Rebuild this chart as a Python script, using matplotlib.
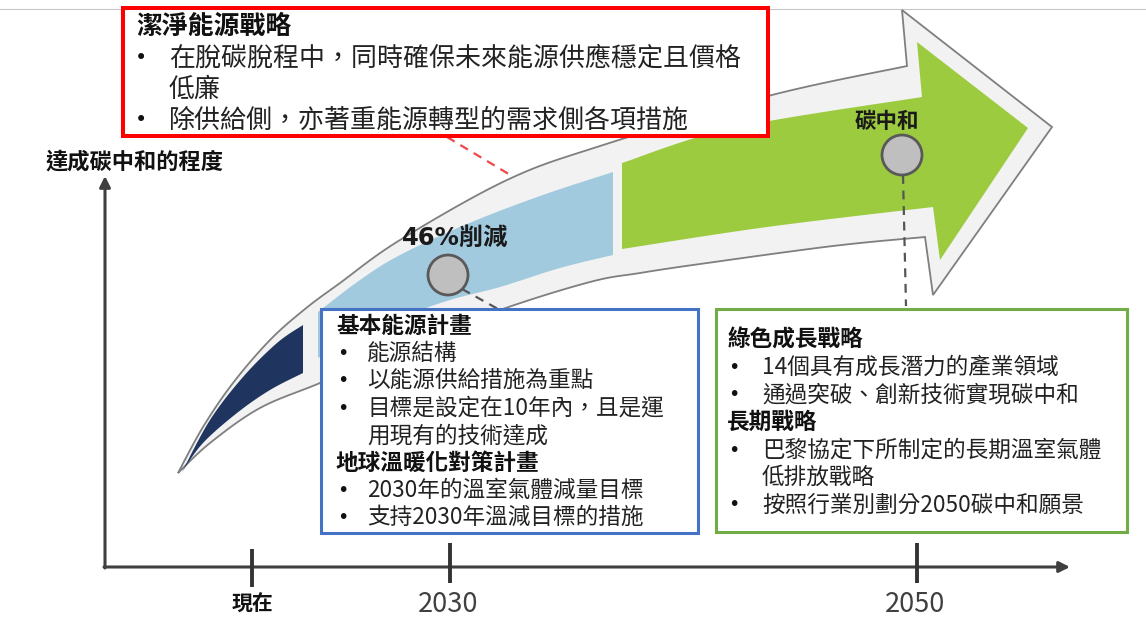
import numpy as np
import matplotlib
matplotlib.use("Agg")
import matplotlib.pyplot as plt
from matplotlib.patches import Polygon, Circle, Rectangle

plt.rcParams['font.family'] = ['Noto Sans CJK TC', 'DejaVu Sans']

# ---------------- content ----------------
axis_label = "達成碳中和的程度"
timeline_labels = ["現在", "2030", "2050"]
milestone_labels = ["46%削減", "碳中和"]

clean_title = "潔淨能源戰略"
clean_items = ["在脫碳脫程中，同時確保未來能源供應穩定且價格\n低廉",
               "除供給側，亦著重能源轉型的需求側各項措施"]

basic_title = "基本能源計畫"
basic_items = ["能源結構", "以能源供給措施為重點", "目標是設定在10年內，且是運\n用現有的技術達成"]
warming_title = "地球溫暖化對策計畫"
warming_items = ["2030年的溫室氣體減量目標", "支持2030年溫減目標的措施"]

green_title = "綠色成長戰略"
green_items = ["14個具有成長潛力的產業領域", "通過突破、創新技術實現碳中和"]
long_title = "長期戰略"
long_items = ["巴黎協定下所制定的長期溫室氣體\n低排放戰略", "按照行業別劃分2050碳中和願景"]

# ---------------- helpers ----------------
def smooth(pts, n=24):
    pts = np.asarray(pts, float)
    P = np.vstack([pts[0], pts, pts[-1]])
    out = []
    t = np.linspace(0, 1, n, endpoint=False)[:, None]
    for i in range(1, len(P) - 2):
        p0, p1, p2, p3 = P[i - 1], P[i], P[i + 1], P[i + 2]
        out.append(0.5 * ((2 * p1) + (-p0 + p2) * t + (2 * p0 - 5 * p1 + 4 * p2 - p3) * t ** 2
                          + (-p0 + 3 * p1 - 3 * p2 + p3) * t ** 3))
    out.append(P[-2][None])
    return np.vstack(out)

fig = plt.figure(figsize=(11.46, 6.21), dpi=100)
ax = fig.add_axes([0, 0, 1, 1])
ax.set_xlim(0, 1146)
ax.set_ylim(621, 0)
ax.axis('off')

# top thin line
ax.plot([0, 1146], [9, 9], color='#c8c8c8', lw=0.8, zorder=0)

# ---------------- big curved arrow ----------------
outer_upper = [(178, 473), (203, 427), (233, 383), (270, 340), (305, 309), (340, 283),
               (400, 240), (507, 180), (600, 146), (768, 96), (907, 66)]
outer_head = [(902, 10), (1052, 127), (933, 295), (925, 237)]
outer_lower = [(925, 237), (833, 246), (700, 264), (640, 273), (590, 282), (500, 310),
               (400, 349), (320, 383), (260, 408), (210, 443), (178, 473)]
outer = np.vstack([smooth(outer_upper), np.array(outer_head, float), smooth(outer_lower)[1:]])
ax.add_patch(Polygon(outer, closed=True, facecolor='#f2f2f2', edgecolor='#7f7f7f', lw=1.3, zorder=1))

navy = np.vstack([smooth([(182, 472), (210, 420), (243, 377), (277, 343), (303, 325)]),
                  smooth([(303, 373), (270, 390), (237, 413), (203, 443), (182, 472)])])
ax.add_patch(Polygon(navy, closed=True, facecolor='#1f3560', edgecolor='none', zorder=2))

blue = np.vstack([smooth([(318, 312), (360, 280), (400, 255), (467, 224), (540, 196), (613, 172)]),
                  smooth([(613, 255), (560, 268), (500, 287), (450, 300), (400, 318), (340, 345), (318, 358)])])
ax.add_patch(Polygon(blue, closed=True, facecolor='#a2cadf', edgecolor='none', zorder=2))

green = np.vstack([smooth([(622, 163), (733, 128), (922, 97)]),
                   np.array([(917, 42), (1028, 128), (940, 260)], float),
                   smooth([(933, 207), (767, 227), (622, 249)])])
ax.add_patch(Polygon(green, closed=True, facecolor='#9dcb3f', edgecolor='none', zorder=2))

# ---------------- connectors ----------------
ax.plot([447, 512], [137, 176], color='#f04848', lw=1.6, ls=(0, (4, 3)), zorder=3)
ax.plot([462, 498], [289, 309], color='#555555', lw=1.6, ls=(0, (4, 3)), zorder=3)
ax.plot([903, 906], [175, 306], color='#555555', lw=1.6, ls=(0, (4, 3)), zorder=3)

# milestones
for (cx, cy), lab, (lx, ly), fs in zip([(448, 275), (902, 155)], milestone_labels,
                                       [(455, 238), (887, 121)], [17.5, 15.5]):
    ax.add_patch(Circle((cx, cy), 20, facecolor='#bfbfbf', edgecolor='#595959', lw=2, zorder=4))
    ax.text(lx, ly, lab, ha='center', va='center', fontsize=fs, fontweight='bold',
            family=['DejaVu Sans', 'Noto Sans CJK TC'] if '%' in lab else ['Noto Sans CJK TC', 'DejaVu Sans'],
            color='#1a1a1a', zorder=5)

# ---------------- axes ----------------
axc = '#3f3f3f'
ax.annotate('', xy=(105, 176), xytext=(105, 568),
            arrowprops=dict(arrowstyle='-|>', lw=2.2, color=axc, mutation_scale=16, shrinkA=0, shrinkB=0), zorder=3)
ax.annotate('', xy=(1070, 567), xytext=(104, 567),
            arrowprops=dict(arrowstyle='-|>', lw=2.2, color=axc, mutation_scale=16, shrinkA=0, shrinkB=0), zorder=3)
ax.text(45, 162, axis_label, ha='left', va='center', fontsize=16, fontweight='bold', color='#111111')

tick_x = [252, 450, 917]
tick_y = [(549, 587), (543, 583), (543, 583)]
for x, (y0, y1), lab in zip(tick_x, tick_y, timeline_labels):
    ax.plot([x, x], [y0, y1], color='#333333', lw=2.8, solid_capstyle='butt', zorder=3)
    if lab.isdigit():
        ax.text(x - 2, 604, lab, ha='center', va='center', fontsize=19.5, color='#404040')
    else:
        ax.text(x, 604, lab, ha='center', va='center', fontsize=15, fontweight='bold', color='#111111')

# ---------------- text boxes ----------------
def box(x0, y0, x1, y1, color, lw):
    ax.add_patch(Rectangle((x0, y0), x1 - x0, y1 - y0, facecolor='white', edgecolor=color, lw=lw, zorder=6))

def write(entries, bx, tx, fs, lh, y):
    """entries: list of (kind, text). kind 't' title, 'b' bullet."""
    for kind, txt in entries:
        lines = txt.split('\n')
        if kind == 't':
            ax.text(bx - 7, y, txt, ha='left', va='center', fontsize=fs, fontweight='bold', color='#111111', zorder=7)
            y += lh
        else:
            ax.text(bx, y, '•', ha='center', va='center', fontsize=fs * 0.85, color='#111111',
                    family=['DejaVu Sans'], zorder=7)
            for ln in lines:
                ax.text(tx, y, ln, ha='left', va='center', fontsize=fs, color='#222222', zorder=7)
                y += lh
    return y

# red box
box(123, 8, 768, 136, '#ff0000', 2.9)
ax.text(136, 26, clean_title, ha='left', va='center', fontsize=18.6, fontweight='bold', color='#111111', zorder=7)
yy = 58
for item in clean_items:
    ax.text(141, yy, '•', ha='center', va='center', fontsize=15, color='#111111', family=['DejaVu Sans'], zorder=7)
    for ln in item.split('\n'):
        ax.text(169, yy, ln, ha='left', va='center', fontsize=18.7, color='#222222', zorder=7)
        yy += 31

# blue box
box(321, 309, 698, 533, '#4472c4', 2.2)
entries = [('t', basic_title)] + [('b', s) for s in basic_items] + [('t', warming_title)] + [('b', s) for s in warming_items]
write(entries, 343, 367, 16.3, 27.4, 326)

# green box
box(716, 309, 1127, 532, '#70ad47', 2.2)
entries = [('t', green_title)] + [('b', s) for s in green_items] + [('t', long_title)] + [('b', s) for s in long_items]
write(entries, 734, 762, 16.3, 27.5, 340)

fig.savefig('out.png', dpi=100)
